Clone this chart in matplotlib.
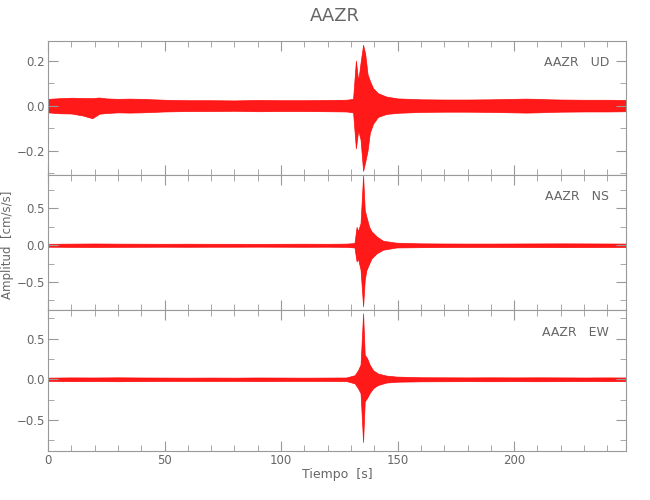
import matplotlib
matplotlib.use('Agg')
import numpy as np
import matplotlib.pyplot as plt
from matplotlib.ticker import MultipleLocator

# seismogram envelopes (time in s, amplitude in cm/s/s)
station = 'AAZR'
components = ['UD', 'NS', 'EW']

t_ud = [0, 5, 10, 15, 19, 22, 25, 30, 35, 40, 45, 50, 55, 60, 70, 80, 90, 100, 110, 120, 128,
        130.9, 132.1, 133.1, 134.1, 135.2, 136.1, 137.1, 138.1, 139.5, 141.6, 145.2, 150,
        160, 170, 180, 190, 200, 205, 210, 215, 220, 230, 240, 248]
up_ud = [0.030, 0.033, 0.035, 0.034, 0.033, 0.036, 0.032, 0.030, 0.031, 0.030, 0.028, 0.026, 0.025,
         0.024, 0.024, 0.023, 0.025, 0.024, 0.024, 0.025, 0.026,
         0.030, 0.200, 0.110, 0.190, 0.270, 0.230, 0.140, 0.110, 0.077, 0.055, 0.040, 0.032,
         0.028, 0.027, 0.027, 0.028, 0.030, 0.031, 0.030, 0.028, 0.027, 0.026, 0.026, 0.025]
lo_ud = [-0.030, -0.034, -0.035, -0.044, -0.056, -0.036, -0.033, -0.030, -0.031, -0.030, -0.028, -0.026, -0.025,
         -0.024, -0.024, -0.023, -0.025, -0.024, -0.024, -0.025, -0.026,
         -0.030, -0.190, -0.110, -0.150, -0.290, -0.250, -0.200, -0.120, -0.080, -0.050, -0.037, -0.032,
         -0.028, -0.027, -0.027, -0.028, -0.030, -0.031, -0.030, -0.028, -0.027, -0.026, -0.026, -0.025]

t_ns = [0, 10, 20, 30, 40, 50, 60, 70, 80, 90, 100, 110, 120, 128,
        131.5, 132.4, 133.0, 134.1, 135.2, 135.9, 136.6, 137.8, 138.8, 141.0, 143.8, 149.5,
        160, 170, 180, 190, 200, 210, 220, 230, 240, 248]
up_ns = [0.020, 0.022, 0.024, 0.022, 0.021, 0.020, 0.021, 0.020, 0.020, 0.019, 0.020, 0.021, 0.020, 0.022,
         0.030, 0.250, 0.190, 0.300, 0.950, 0.480, 0.390, 0.250, 0.190, 0.120, 0.060, 0.035,
         0.026, 0.024, 0.023, 0.023, 0.024, 0.025, 0.026, 0.025, 0.024, 0.023]
lo_ns = [-0.020, -0.022, -0.024, -0.022, -0.021, -0.020, -0.021, -0.020, -0.020, -0.019, -0.020, -0.021, -0.020, -0.022,
         -0.030, -0.220, -0.180, -0.330, -0.830, -0.470, -0.340, -0.250, -0.180, -0.110, -0.060, -0.030,
         -0.026, -0.024, -0.023, -0.023, -0.024, -0.025, -0.026, -0.025, -0.024, -0.023]

t_ew = [0, 10, 20, 30, 40, 50, 60, 70, 80, 90, 100, 110, 120, 128,
        131.6, 133.0, 134.1, 135.2, 135.9, 136.9, 138.0, 139.5, 141.6, 145.2, 149.5,
        160, 170, 180, 190, 200, 210, 220, 230, 240, 248]
up_ew = [0.020, 0.023, 0.022, 0.024, 0.022, 0.021, 0.020, 0.021, 0.020, 0.022, 0.021, 0.020, 0.021, 0.022,
         0.050, 0.110, 0.180, 0.810, 0.300, 0.260, 0.180, 0.110, 0.070, 0.045, 0.033,
         0.025, 0.024, 0.023, 0.024, 0.023, 0.024, 0.023, 0.022, 0.023, 0.022]
lo_ew = [-0.020, -0.023, -0.022, -0.024, -0.022, -0.021, -0.020, -0.021, -0.020, -0.022, -0.021, -0.020, -0.021, -0.022,
         -0.050, -0.110, -0.170, -0.770, -0.270, -0.230, -0.170, -0.110, -0.070, -0.040, -0.030,
         -0.025, -0.024, -0.023, -0.024, -0.023, -0.024, -0.023, -0.022, -0.023, -0.022]

traces = [(t_ud, up_ud, lo_ud), (t_ns, up_ns, lo_ns), (t_ew, up_ew, lo_ew)]
ylims = [(-0.308, 0.289), (-0.88, 0.955), (-0.88, 0.85)]
yticks = [[-0.2, 0.0, 0.2], [-0.5, 0.0, 0.5], [-0.5, 0.0, 0.5]]
yminor = [0.1, 0.25, 0.25]

grey = '#666666'
axcol = '#999999'

fig = plt.figure(figsize=(6.5, 5), dpi=100)
left, right = 48 / 650, 626 / 650
edges = [40.5, 175, 310, 451]

axes = []
for i in range(3):
    top = 1 - edges[i] / 500
    bot = 1 - edges[i + 1] / 500
    ax = fig.add_axes([left, bot, right - left, top - bot])
    t, up, lo = traces[i]
    ax.fill_between(t, lo, up, color='red', linewidth=0.5, edgecolor='red', alpha=0.9)
    ax.set_xlim(0, 248)
    ax.set_ylim(*ylims[i])
    ax.set_yticks(yticks[i])
    ax.set_yticklabels([('%.1f' % v).replace('-', '\u2212') for v in yticks[i]])
    ax.yaxis.set_minor_locator(MultipleLocator(yminor[i]))
    ax.xaxis.set_major_locator(MultipleLocator(50))
    ax.xaxis.set_minor_locator(MultipleLocator(10))
    ax.tick_params(which='both', direction='in', top=True, right=True, colors=axcol,
                   labelcolor=grey, labelsize=8.5, pad=2)
    ax.tick_params(which='major', length=7)
    ax.tick_params(which='minor', length=4)
    for s in ax.spines.values():
        s.set_color(axcol)
        s.set_linewidth(0.8)
    if i < 2:
        ax.tick_params(labelbottom=False)
    ax.text(0.971, 0.84, station + '   ' + components[i], transform=ax.transAxes,
            ha='right', va='center', color=grey, fontsize=9)
    axes.append(ax)

axes[2].set_xlabel('Tiempo  [s]', color=grey, fontsize=9, labelpad=1)
fig.text(0.012, 0.51, 'Amplitud  [cm/s/s]', rotation=90, ha='center', va='center',
         color=grey, fontsize=8.5)
fig.text(0.515, 0.968, station, ha='center', va='center', color=grey, fontsize=13)

fig.savefig('out.png', dpi=100)
